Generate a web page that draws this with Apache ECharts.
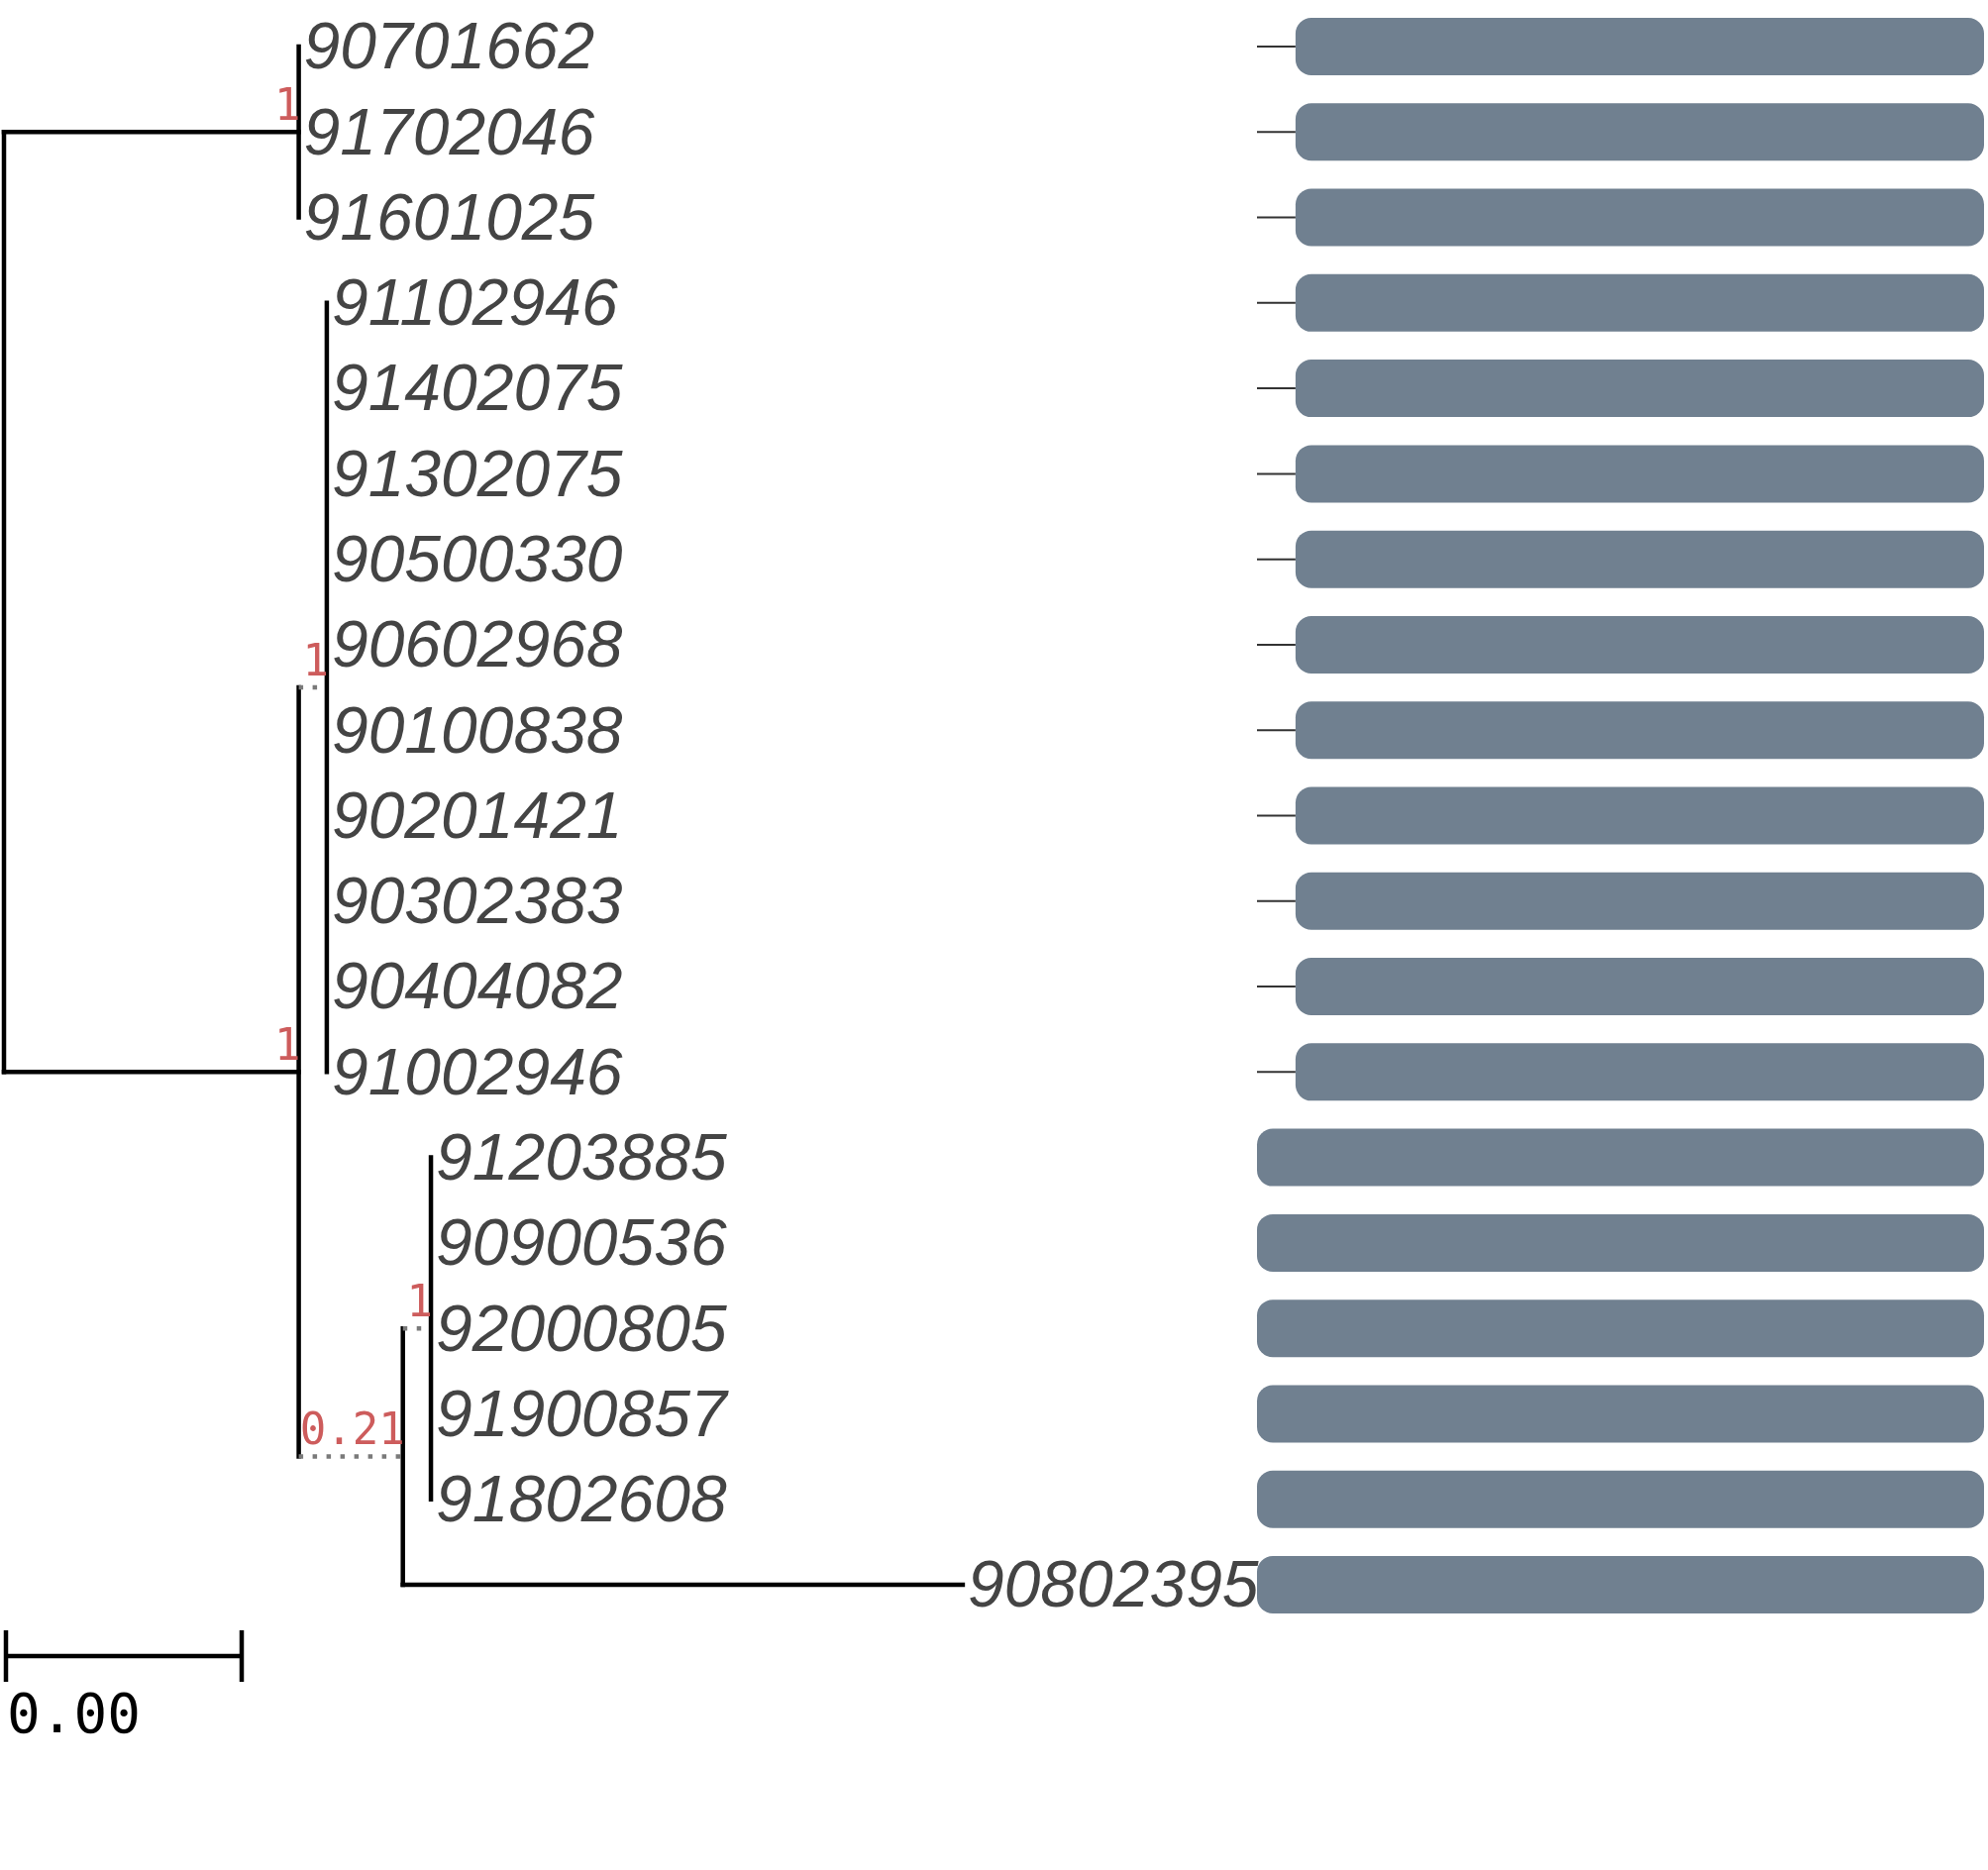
<!DOCTYPE html>
<html>
<head>
<meta charset="utf-8">
<script src="https://cdn.jsdelivr.net/npm/echarts@6/dist/echarts.min.js"></script>
<style>
  html, body { margin: 0; padding: 0; background: #fff; }
  #chart01 { width: 2007px; height: 1888px; }
</style>
</head>
<body>
<div id="chart01"></div>
<script>
// tips, top to bottom
var tipNames = ['90701662','91702046','91601025','91102946','91402075','91302075','90500330',
  '90602968','90100838','90201421','90302383','90404082','91002946','91203885','90900536',
  '92000805','91900857','91802608','90802395'];
var tipParent = ['A','A','A','B1','B1','B1','B1','B1','B1','B1','B1','B1','B1',
  'B2a','B2a','B2a','B2a','B2a','B2'];
var tipBranch = [0,0,0,0,0,0,0,0,0,0,0,0,0,0,0,0,0,0,0.002355];

// internal nodes
var nodeIds     = ['root','A','B','B1','B2','B2a'];
var nodeParent  = [null,'root','root','B','B','B2'];
var nodeBranch  = [0,0.00124,0.00124,0.000118,0.000438,0.000118];
var nodeSupport = [null,1,1,1,0.21,1];

// domain bars (percent of alignment)
var barStart = [5.3,5.3,5.3,5.3,5.3,5.3,5.3,5.3,5.3,5.3,5.3,5.3,5.3,0,0,0,0,0,0];
var barEnd   = [100,100,100,100,100,100,100,100,100,100,100,100,100,100,100,100,100,100,100];

var scaleBarLength = 0.001;

// ---- layout of the tree ----
var depth = {}, ypos = {}, yrange = {};
function calcDepth(id, d){
  depth[id] = d;
  nodeIds.forEach(function(c, i){ if (nodeParent[i] === id) calcDepth(c, d + nodeBranch[i]); });
}
calcDepth('root', 0);
function calcY(id){
  var ys = [];
  tipParent.forEach(function(p, i){ if (p === id) ys.push(i); });
  nodeIds.forEach(function(c, i){ if (nodeParent[i] === id) ys.push(calcY(c)); });
  var lo = Math.min.apply(null, ys), hi = Math.max.apply(null, ys);
  yrange[id] = [lo, hi];
  ypos[id] = (lo + hi) / 2;
  return ypos[id];
}
calcY('root');

var segments = [];  // [x1, y1, x2, y2, dotted]
nodeIds.forEach(function(id, i){
  var p = nodeParent[i];
  if (p) segments.push([depth[p], ypos[id], depth[id], ypos[id], p === 'root' ? 0 : 1]);
  segments.push([depth[id], yrange[id][0], depth[id], yrange[id][1], 0]);
});
var tipDepth = tipNames.map(function(n, i){ return depth[tipParent[i]] + tipBranch[i]; });
tipNames.forEach(function(n, i){
  if (tipBranch[i] > 0) segments.push([depth[tipParent[i]], i, tipDepth[i], i, 0]);
});

var tipData = tipNames.map(function(n, i){ return [tipDepth[i], i, n]; });
var supportData = [];
nodeIds.forEach(function(id, i){
  if (nodeSupport[i] != null) supportData.push([depth[id], ypos[id], String(nodeSupport[i])]);
});
var barData = tipNames.map(function(n, i){ return [barStart[i], barEnd[i], i]; });

var chart01 = echarts.init(document.getElementById('chart01'));
var option = {
  animation: false,
  backgroundColor: '#fff',
  grid: [
    { left: 4, width: 1200, top: 47, bottom: 288 },
    { left: 1269, right: 4, top: 47, bottom: 288 }
  ],
  xAxis: [
    { type: 'value', gridIndex: 0, min: 0, max: 0.005, show: false },
    { type: 'value', gridIndex: 1, min: 0, max: 100, show: false }
  ],
  yAxis: [
    { type: 'value', gridIndex: 0, min: 0, max: tipNames.length - 1, inverse: true, show: false },
    { type: 'value', gridIndex: 1, min: 0, max: tipNames.length - 1, inverse: true, show: false }
  ],
  series: [
    {
      type: 'custom', name: 'branches', xAxisIndex: 0, yAxisIndex: 0, clip: false,
      data: segments,
      renderItem: function(params, api){
        var a = api.coord([api.value(0), api.value(1)]);
        var b = api.coord([api.value(2), api.value(3)]);
        var dotted = api.value(4) === 1;
        return {
          type: 'line',
          shape: { x1: a[0], y1: a[1], x2: b[0], y2: b[1] },
          style: dotted
            ? { stroke: '#7a7a7a', lineWidth: 4.5, lineDash: [4.5, 9.5], lineCap: 'butt' }
            : { stroke: '#000', lineWidth: 4.5, lineCap: 'square' }
        };
      }
    },
    {
      type: 'custom', name: 'tips', xAxisIndex: 0, yAxisIndex: 0, clip: false,
      data: tipData,
      renderItem: function(params, api){
        var p = api.coord([api.value(0), api.value(1)]);
        return {
          type: 'text', x: p[0] + 5, y: p[1] + 4,
          style: {
            text: tipData[params.dataIndex][2],
            fontSize: 66, fontStyle: 'italic', fontFamily: 'Liberation Sans',
            fill: '#444', align: 'left', verticalAlign: 'middle'
          }
        };
      }
    },
    {
      type: 'custom', name: 'support', xAxisIndex: 0, yAxisIndex: 0, clip: false,
      data: supportData,
      renderItem: function(params, api){
        var p = api.coord([api.value(0), api.value(1)]);
        return {
          type: 'text', x: p[0] + 2, y: p[1] - 2,
          style: {
            text: supportData[params.dataIndex][2],
            fontSize: 44, fontFamily: 'DejaVu Sans Mono',
            fill: '#CD5C5C', align: 'right', verticalAlign: 'bottom'
          }
        };
      }
    },
    {
      type: 'custom', name: 'scale', xAxisIndex: 0, yAxisIndex: 0, clip: false,
      data: [[0, scaleBarLength, tipNames.length - 1]],
      renderItem: function(params, api){
        var a = api.coord([api.value(0), api.value(2)]);
        var b = api.coord([api.value(1), api.value(2)]);
        var y = a[1] + 72;
        var st = { stroke: '#000', lineWidth: 4.5 };
        return {
          type: 'group',
          children: [
            { type: 'line', shape: { x1: a[0], y1: y, x2: b[0], y2: y }, style: st },
            { type: 'line', shape: { x1: a[0] + 2, y1: y - 26, x2: a[0] + 2, y2: y + 26 }, style: st },
            { type: 'line', shape: { x1: b[0], y1: y - 26, x2: b[0], y2: y + 26 }, style: st },
            { type: 'text', x: a[0] + 3, y: y + 34,
              style: { text: scaleBarLength.toFixed(2), fontSize: 56, fontFamily: 'DejaVu Sans Mono',
                       fill: '#000', align: 'left', verticalAlign: 'top' } }
          ]
        };
      }
    },
    {
      type: 'custom', name: 'domains', xAxisIndex: 1, yAxisIndex: 1, clip: false,
      data: barData,
      renderItem: function(params, api){
        var a = api.coord([api.value(0), api.value(2)]);
        var b = api.coord([api.value(1), api.value(2)]);
        var o = api.coord([0, api.value(2)]);
        var kids = [];
        if (api.value(0) > 0) {
          kids.push({ type: 'line', shape: { x1: o[0], y1: o[1], x2: a[0], y2: a[1] },
                      style: { stroke: '#333', lineWidth: 2 } });
        }
        kids.push({ type: 'rect', shape: { x: a[0], y: a[1] - 29, width: b[0] - a[0], height: 58, r: 16 },
                    style: { fill: '#708090' } });
        return { type: 'group', children: kids };
      }
    }
  ]
};
chart01.setOption(option);
</script>
</body>
</html>
